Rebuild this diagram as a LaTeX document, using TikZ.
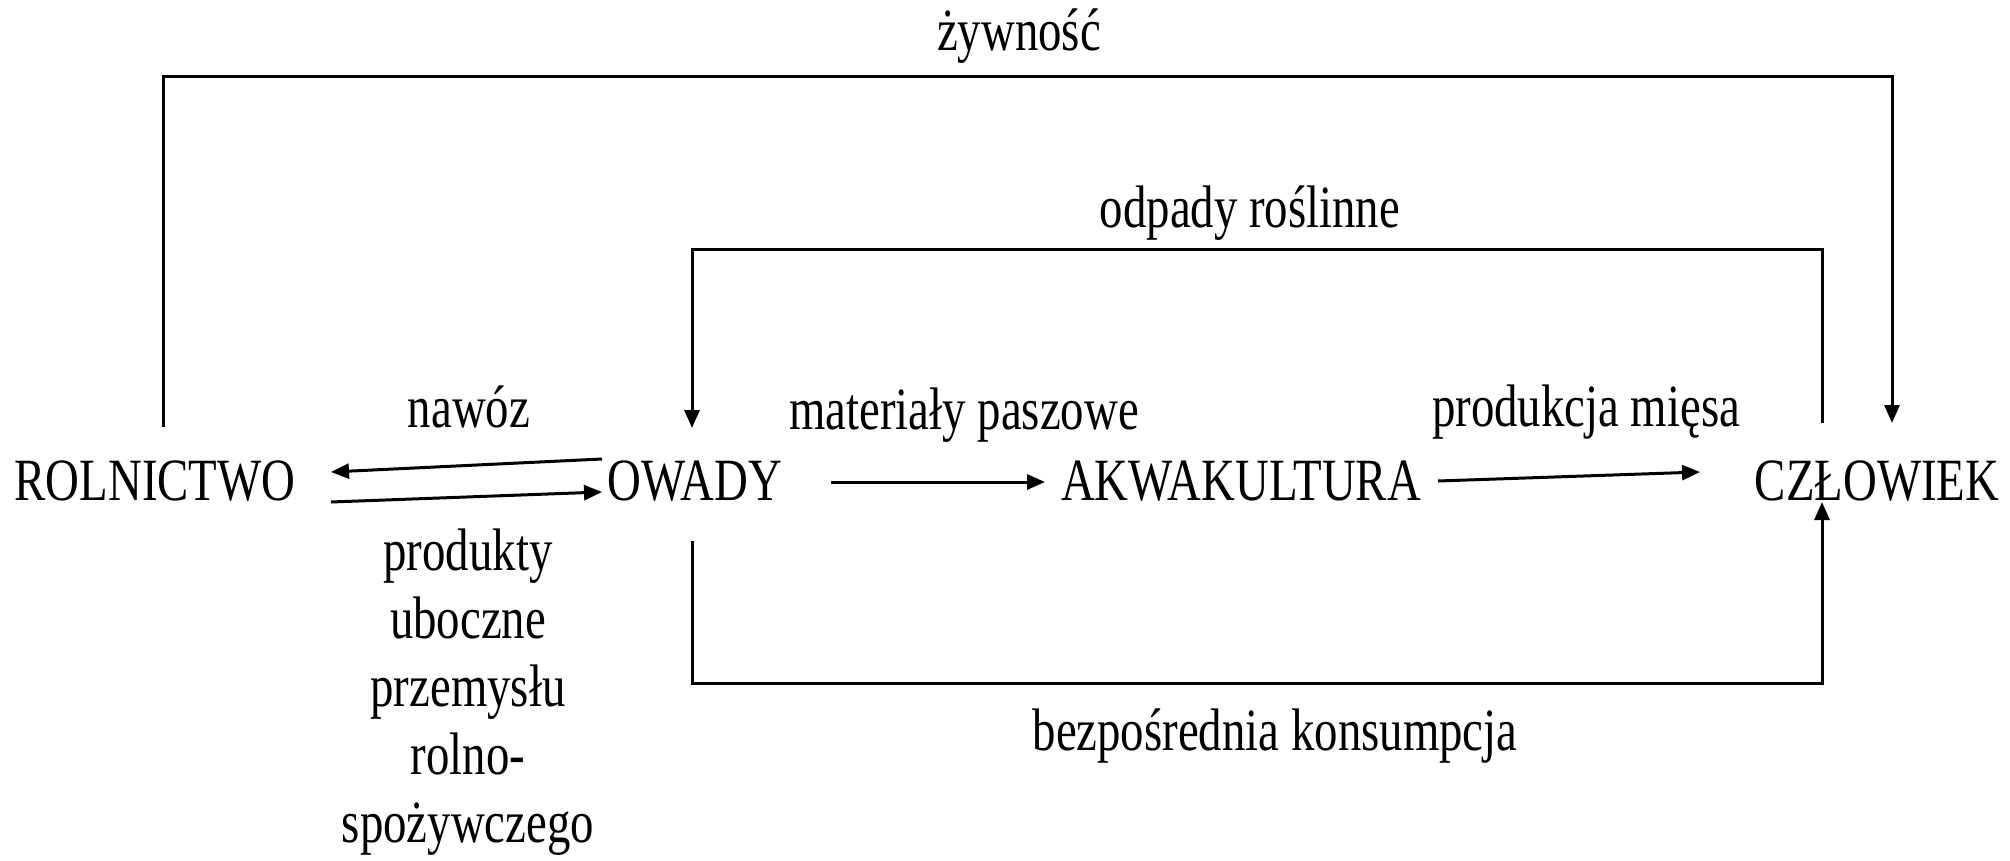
\documentclass[tikz,border=0pt]{standalone}
\usepackage{fontspec}
\setmainfont{Liberation Serif}
\usetikzlibrary{arrows.meta}
\newcommand\cmpr[1]{\scalebox{0.78}[1]{#1}}
\begin{document}
\begin{tikzpicture}[x=1pt,y=-1pt,
  txt/.style={inner sep=0pt, anchor=base, font=\fontsize{60}{68}\selectfont},
  ln/.style={line width=3pt, black},
  arr/.style={ln, -{Triangle[width=15pt,length=18pt]}}]
\useasboundingbox[fill=white] (0,0) rectangle (2010,861);
% main nodes
\node[txt] (rol) at (155,500) {\cmpr{ROLNICTWO}};
\node[txt] (owa) at (695,500) {\cmpr{OWADY}};
\node[txt] (akw) at (1241,500) {\cmpr{AKWAKULTURA}};
\node[txt] (czl) at (1877,500) {\cmpr{CZŁOWIEK}};
% labels
\node[txt] (lzyw) at (1019,51) {\cmpr{żywność}};
\node[txt] (lodp) at (1250,227) {\cmpr{odpady roślinne}};
\node[txt] (lnaw) at (469,427) {\cmpr{nawóz}};
\node[txt] (lmat) at (964,429) {\cmpr{materiały paszowe}};
\node[txt] (lpro) at (1586,426) {\cmpr{produkcja mięsa}};
\node[txt] (lbez) at (1275,750) {\cmpr{bezpośrednia konsumpcja}};
\node[txt] (lprd) at (468,570) {\cmpr{\begin{tabular}[t]{@{}c@{}}produkty\\uboczne\\przemysłu\\rolno-\\spożywczego\end{tabular}}};
% connector end points
\coordinate (rolT) at (163,427);
\coordinate (czlT2) at (1892,423);
\coordinate (czlT1) at (1822,423);
\coordinate (owaT) at (692,428);
\coordinate (owaB) at (692,541);
\coordinate (czlB) at (1822,502);
\coordinate (owaL1) at (602,459);
\coordinate (rolR1) at (331,472);
\coordinate (rolR2) at (331,502);
\coordinate (owaL2) at (602,492);
\coordinate (owaR) at (831,482);
\coordinate (akwL) at (1045,482);
\coordinate (akwR) at (1438,481);
\coordinate (czlL) at (1700,472);
% connectors
\draw[arr] (rolT) |- (1892,77) -- (czlT2);
\draw[arr] (czlT1) |- (692,249) -- (owaT);
\draw[arr] (owaB) |- (1822,683) -- (czlB);
\draw[arr] (owaL1) -- (rolR1);
\draw[arr] (rolR2) -- (owaL2);
\draw[arr] (owaR) -- (akwL);
\draw[arr] (akwR) -- (czlL);
\end{tikzpicture}
\end{document}
